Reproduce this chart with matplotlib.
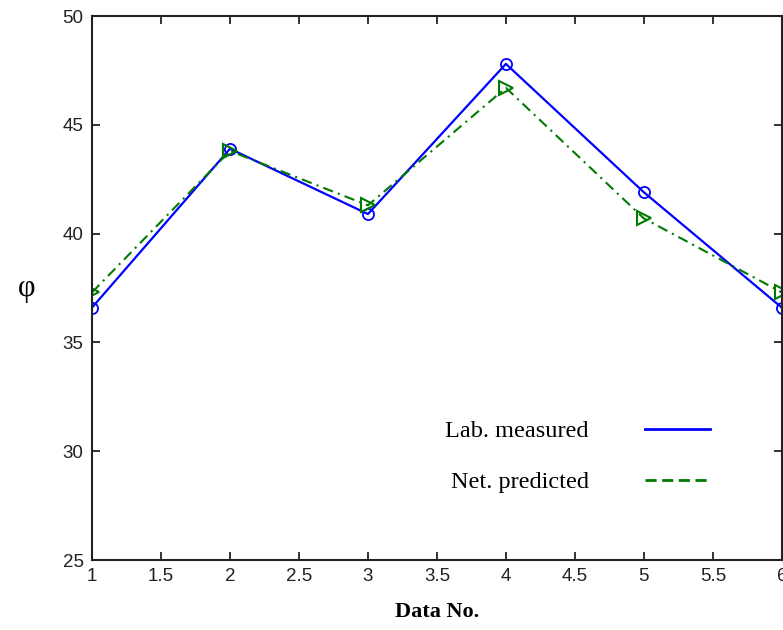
import matplotlib
matplotlib.use("Agg")
import matplotlib.pyplot as plt
from matplotlib.lines import Line2D

# Data points (sample number vs. phi)
data_no = [1, 2, 3, 4, 5, 6]
lab_measured = [36.6, 43.9, 40.9, 47.8, 41.9, 36.6]
net_predicted = [37.3, 43.8, 41.3, 46.7, 40.7, 37.3]

x_ticks = [1, 1.5, 2, 2.5, 3, 3.5, 4, 4.5, 5, 5.5, 6]
y_ticks = [25, 30, 35, 40, 45, 50]

blue = "#0000ff"
green = "#007a00"

plt.rcParams["font.family"] = ["Liberation Sans", "DejaVu Sans"]

fig = plt.figure(figsize=(7.83, 6.3), dpi=100)
ax = fig.add_axes([0.1175, 0.111, 0.881, 0.8636])

ax.plot(data_no, lab_measured, color=blue, lw=1.6, marker="o",
        ms=8, mfc="none", mec=blue, mew=1.3)
ax.plot(data_no, net_predicted, color=green, lw=1.5, marker=">",
        ms=10, mfc="none", mec=green, mew=1.5, dashes=(5, 2.5, 1, 2.5))

ax.set_xlim(1, 6)
ax.set_ylim(25, 50)
ax.set_xticks(x_ticks)
ax.set_xticklabels(["1", "1.5", "2", "2.5", "3", "3.5", "4", "4.5", "5", "5.5", "6"])
ax.set_yticks(y_ticks)
ax.tick_params(direction="in", length=6, width=1.3, labelsize=13.5,
               top=True, right=True, colors="#222222", pad=6)
for s in ax.spines.values():
    s.set_linewidth(1.5)
    s.set_color("#222222")

ax.set_xlabel("Data No.", family="Liberation Serif", fontweight="bold",
              fontsize=16, labelpad=12)
ax.set_ylabel("φ", family="Liberation Serif", fontsize=22, rotation=0,
              labelpad=26, va="center")

handles = [
    Line2D([], [], color=blue, lw=2),
    Line2D([], [], color=green, lw=2, dashes=(4, 2)),
]
ax.legend(handles, ["Lab. measured", "Net. predicted"], loc="center",
          bbox_to_anchor=(0.704, 0.19), frameon=False, markerfirst=False,
          prop={"family": "Liberation Serif", "size": 17.5},
          handlelength=2.7, handletextpad=2.3, labelspacing=1.2)

fig.savefig("out.png", dpi=100)
